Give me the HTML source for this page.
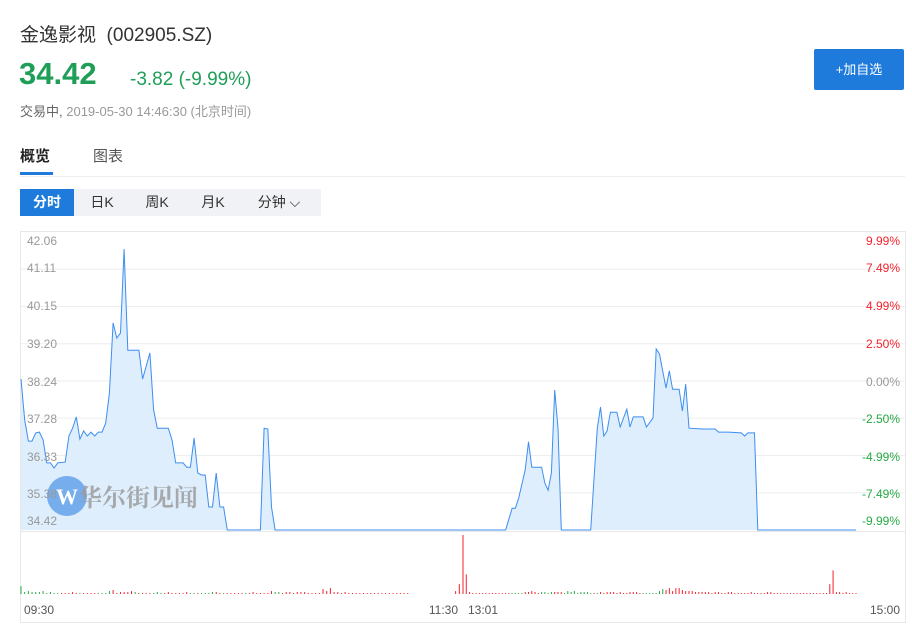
<!DOCTYPE html>
<html><head><meta charset="utf-8">
<style>
body{margin:0;width:912px;height:627px;background:#fff;font-family:"Liberation Sans","Noto Sans CJK SC",sans-serif;position:relative;overflow:hidden}
.a{position:absolute;white-space:nowrap}
.pb{position:absolute;top:189px;height:27px;line-height:27px;font-size:14px;color:#333;text-align:center}
</style></head><body>
<div class="a" style="left:20px;top:20px;font-size:19px;color:#333">金逸影视&nbsp; (002905.SZ)</div>
<div class="a" style="left:19px;top:56px;font-size:31px;font-weight:bold;color:#1f9e58">34.42</div>
<div class="a" style="left:130px;top:69px;font-size:19px;color:#1f9e58">-3.82 (-9.99%)</div>
<div class="a" style="left:20px;top:101px;font-size:13px;color:#666">交易中, <span style="color:#999">2019-05-30 14:46:30 (北京时间)</span></div>
<div class="a" style="left:814px;top:49px;width:90px;height:41px;line-height:41px;text-align:center;background:#1f7bdb;color:#fff;font-size:13px;border-radius:2px">+加自选</div>
<div class="a" style="left:20px;top:145px;font-size:15px;color:#222;font-weight:bold">概览</div>
<div class="a" style="left:93px;top:145px;font-size:15px;color:#555">图表</div>
<div class="a" style="left:20px;top:172px;width:33px;height:3px;background:#1f7bdb"></div>
<div class="a" style="left:20px;top:176px;width:885px;height:1px;background:#eee"></div>
<div class="a" style="left:20px;top:189px;width:301px;height:27px;background:#f0f2f5"></div>
<div class="pb" style="left:20px;width:54px;background:#1f7bdb;color:#fff;font-weight:bold">分时</div>
<div class="pb" style="left:80px;width:44px">日K</div>
<div class="pb" style="left:134px;width:46px">周K</div>
<div class="pb" style="left:190px;width:46px">月K</div>
<div class="pb" style="left:250px;width:58px">分钟 ⌵</div>
<svg id="chart" class="a" style="left:0;top:0" width="912" height="627"></svg>
<script>
const minutes=[0,1,2,3,4,5,6,7,8,9,10,12,13,14,15,16,17,18,19,20,21,22,23,24,25,26,27,28,29,32,33,35,36,37,40,41,42,44,45,46,47,48,49,50,51,52,53,54,55,56,65,66,67,68,69,133,135,136,137,139,140,141,144,145,146,147,148,149,150,159,161,162,163,164,165,167,168,170,171,172,173,175,176,178,179,180,182,183,184,186,187,188,189,193,197,198,201,205,206,207,209,210,240];
const prices=[38.29,37.24,36.70,36.70,36.91,36.93,36.73,36.14,36.14,36.01,36.14,36.16,36.83,37.03,37.32,36.75,36.96,36.83,36.93,36.83,36.93,36.93,37.16,37.93,39.73,39.34,39.47,41.62,39.03,39.03,38.29,38.96,37.50,37.03,37.03,36.73,36.14,36.14,36.03,36.03,36.78,35.88,35.83,35.83,35.01,35.01,35.88,35.01,35.01,34.42,34.42,37.03,37.01,35.01,34.42,34.42,34.98,34.98,35.24,35.96,36.68,36.03,36.03,35.62,35.44,35.88,38.01,37.03,34.42,34.42,37.03,37.57,36.83,36.96,37.44,37.44,37.06,37.52,37.06,37.32,37.32,37.32,37.06,37.29,39.06,38.93,38.06,38.50,38.03,38.03,37.47,38.16,37.03,37.01,37.01,36.93,36.93,36.91,36.83,36.91,36.91,34.42,34.42];
const volumes=[
8,2,3,2,2,2,3,1,2,1,
1,1,1,1,2,1,1,1,1,1,
1,1,1,1,3,4,1,2,2,2,
3,2,1,1,1,1,1,2,1,1,
2,1,1,1,1,2,1,1,1,1,
1,1,2,2,1,1,1,1,1,1,
1,1,1,2,1,1,1,1,3,2,
2,1,2,2,1,2,2,2,1,1,
1,1,5,3,6,2,2,1,2,1,
1,1,1,1,1,1,1,1,1,1,
1,1,1,1,1,1,0,0,0,0,
0,0,0,0,0,0,0,0,3,10,
60,20,2,1,1,1,1,1,1,1,
1,1,1,1,1,1,1,1,1,2,
2,3,2,1,2,2,1,2,2,2,
2,1,3,2,3,1,2,2,2,1,
1,1,2,1,2,2,2,1,2,1,
1,2,2,2,1,1,1,1,1,1,
3,5,4,6,3,6,6,4,3,3,
3,2,2,2,2,2,1,2,2,1,
1,2,2,1,1,1,1,1,2,1,
1,1,1,2,2,1,1,1,1,1,
1,1,1,1,1,1,1,1,1,1,
1,1,10,24,2,2,1,2,1,1,
1];
const volColors=("ggggggggggg"+"rrrrrgrrrr"+"ggggrrrrrr"+"grrrrgggrr"+"rrrrrggrgg"+"ggrrgrrrrr"+"grrrrrrrgg"+"rrrrrrrrrr"+"rrrrrrrrrr"+"rrrrrrrrrr"+"rrrrrrrrrr"+"rrrrrrrrrr"+"rrrrrrrrrr"+"rrrrggggrr"+"rrrggggrrr"+"gggggggggr"+"grrrrrrrrr"+"rrrrgggggg"+"grrrrrrrrr"+"rrrrrrrrrr"+"rrrrrrrrrr"+"rrrrrrrrrr"+"rrrrrrrrrr"+"rrrrrrrrrr"+"rrrrrrrrrr").split('');
const leftTicks=["42.06","41.11","40.15","39.20","38.24","37.28","36.33","35.38","34.42"];
const rightTicks=["9.99%","7.49%","4.99%","2.50%","0.00%","-2.50%","-4.99%","-7.49%","-9.99%"];
const timeLabels=["09:30","11:30","13:01","15:00"];
const NS="http://www.w3.org/2000/svg";
const svg=document.getElementById('chart');
const pMax=42.06,pMin=34.42,yTop=232,yBot=530;
function y(p){return yTop+(pMax-p)/(pMax-pMin)*(yBot-yTop);}
function x(m){return m<=120?21+m*(463-21)/120:463+(m-120)*(856-463)/120;}
function mk(t,a){const e=document.createElementNS(NS,t);for(const k in a)e.setAttribute(k,a[k]);svg.appendChild(e);return e;}
let e=mk('rect',{x:20.5,y:231.5,width:885,height:391,fill:'none',stroke:'#e8e8e8'});


const tickY=[241,268,306,344,382,419,457,494,521];
leftTicks.forEach((t,i)=>{
 const gy=y(pMax-i*(pMax-pMin)/8);
 if(i>0&&i<8){const l=mk('line',{x1:21,x2:905,y1:gy,y2:gy,stroke:'#eee'});
 
 }
});
let d='M'+x(minutes[0])+','+y(prices[0]);
minutes.forEach((m,i)=>{d+=' L'+x(m).toFixed(1)+','+y(prices[i]).toFixed(1);});
e=mk('path',{d:d+' L'+x(240)+','+yBot+' L'+x(0)+','+yBot+' Z',fill:'#dfeefc'});


e=mk('line',{x1:21,x2:905,y1:531.5,y2:531.5,stroke:'#e8e8e8'});


e=mk('circle',{cx:67,cy:496,r:20,fill:'#5b9ee8',opacity:0.8});


e=mk('text',{x:67,y:504,'font-size':22,'font-weight':'bold',fill:'#fff','text-anchor':'middle','font-family':'Liberation Serif,serif'});e.textContent='W';


e=mk('text',{x:78,y:506,'font-size':24,'font-weight':'bold',fill:'#999',opacity:0.8,'font-family':'Noto Serif CJK SC,serif'});e.textContent='华尔街见闻';


e=mk('path',{d:d,fill:'none',stroke:'#3d8ef0','stroke-width':1});


leftTicks.forEach((t,i)=>{
 const ty=tickY[i];
 let a=mk('text',{x:27,y:ty+4,'font-size':12,fill:'#999'});a.textContent=t;
 
 
 const c=i<4?'#f5222d':(i==4?'#999':'#27a844');
 let b=mk('text',{x:900,y:ty+4,'font-size':12,fill:c,'text-anchor':'end'});b.textContent=rightTicks[i];
 
 
});
const vMax=60,vBase=594,vH=59;
volumes.forEach((v,i)=>{
 if(!v)return;
 const b=mk('rect',{x:x(i)-0.5,y:vBase-v/vMax*vH,width:1,height:v/vMax*vH,fill:volColors[i]=='g'?'#27a844':'#f5222d'});
 
 
});
const tlX=[24,458,468,900],tlA=['start','end','start','end'];
timeLabels.forEach((t,i)=>{
 const a=mk('text',{x:tlX[i],y:614,'font-size':12,fill:'#555','text-anchor':tlA[i]});a.textContent=t;
 
 
});
</script>
</body></html>
